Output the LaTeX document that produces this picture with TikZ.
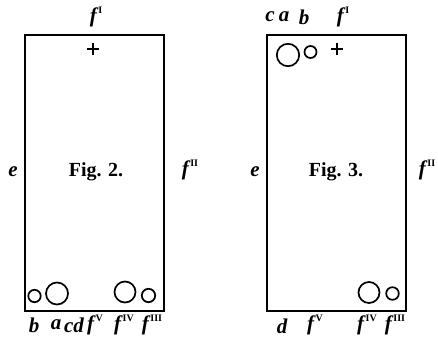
\documentclass[tikz,border=0pt]{standalone}
\usepackage{fontspec}
\setmainfont{Liberation Serif}
\newcommand{\rn}[1]{\kern1.5pt\raisebox{0.42em}{\fontsize{10}{10}\selectfont\bfseries\upshape #1}}
\begin{document}
\begin{tikzpicture}[x=1pt,y=-1pt,
  lbl/.style={font=\fontsize{21}{21}\selectfont\bfseries\itshape, inner sep=0pt},
  figl/.style={font=\fontsize{20}{20}\selectfont\bfseries, inner sep=0pt},
  boxline/.style={line width=1.8pt},
  ring/.style={line width=1.7pt},
  cross/.style={line width=2.6pt}]
\useasboundingbox (0,0) rectangle (438,340);
% Fig. 2 box
\draw[boxline] (25,35) rectangle (164,311);
\node[lbl] (t1) at (96,17) {f\rn{I}};
\draw[cross] (87,49) -- (99,49) (93,43) -- (93,55);
\node[lbl] (e1) at (13,172) {e};
\node[lbl] (r1) at (190,170) {f\rn{II}};
\node[figl] (fig2) at (96,172) {Fig. 2.};
\draw[ring] (34.5,296) circle (6.2);
\draw[ring] (57,293.5) circle (11);
\draw[ring] (125,292) circle (10.5);
\draw[ring] (148.5,295.5) circle (6.7);
\node[lbl] (b1) at (34,325) {b};
\node[lbl] (a1) at (56,325) {a};
\node[lbl] (cd1) at (74,325) {cd};
\node[lbl] (f5a) at (95,325) {f\rn{V}};
\node[lbl] (f4a) at (124,325) {f\rn{IV}};
\node[lbl] (f3a) at (152,325) {f\rn{III}};
% Fig. 3 box
\draw[boxline] (267,35) rectangle (406,311);
\node[lbl] (c2) at (270,17) {c};
\node[lbl] (a2) at (284,17) {a};
\node[lbl] (b2) at (304,17) {b};
\node[lbl] (t2) at (343,17) {f\rn{I}};
\draw[ring] (288,55) circle (11.2);
\draw[ring] (310.5,52) circle (6);
\draw[cross] (331,49) -- (343,49) (337,43) -- (337,55);
\node[lbl] (e2) at (255,172) {e};
\node[lbl] (r2) at (427,170) {f\rn{II}};
\node[figl] (fig3) at (336,172) {Fig. 3.};
\draw[ring] (369,292.5) circle (10.5);
\draw[ring] (392.5,293.5) circle (6.3);
\node[lbl] (d2) at (282,326) {d};
\node[lbl] (f5b) at (315,325) {f\rn{V}};
\node[lbl] (f4b) at (367,325) {f\rn{IV}};
\node[lbl] (f3b) at (395,325) {f\rn{III}};
\end{tikzpicture}
\end{document}
